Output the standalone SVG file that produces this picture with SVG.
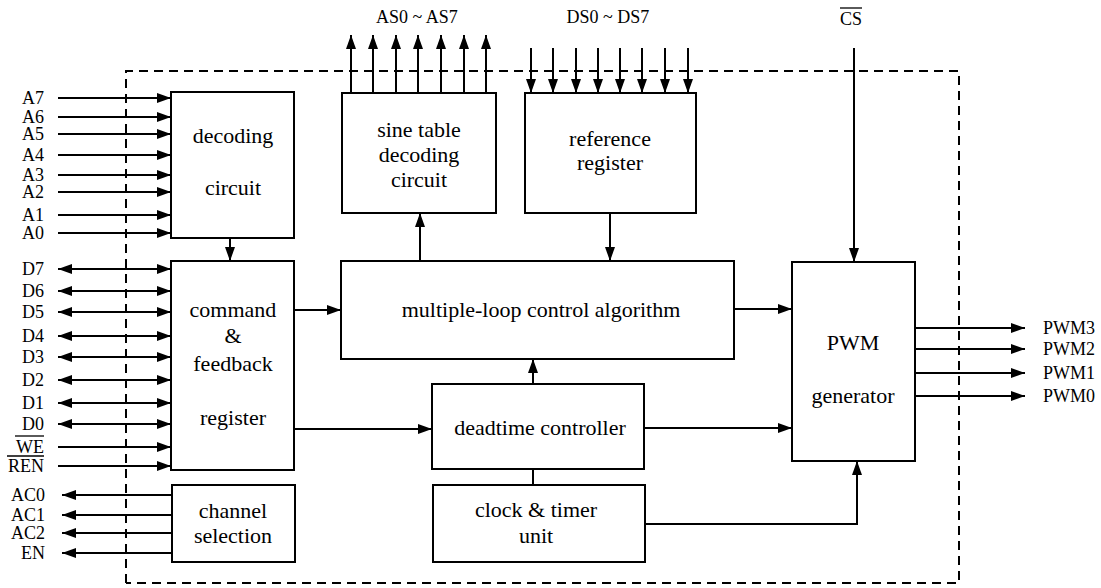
<svg xmlns="http://www.w3.org/2000/svg" width="1101" height="588" viewBox="0 0 1101 588">
<defs>
<marker id="ah" markerUnits="userSpaceOnUse" markerWidth="15" markerHeight="11" refX="14" refY="5" orient="auto-start-reverse">
<path d="M0,0 L14,5 L0,10 z" fill="#000"/>
</marker>
<style>
.box{fill:#fff;stroke:#000;stroke-width:2}
.t{font-family:"Liberation Serif","Times New Roman",serif;font-size:22px;fill:#000;text-anchor:middle}
.l{font-family:"Liberation Serif","Times New Roman",serif;font-size:18px;fill:#000}
.r{text-anchor:end}
.c{text-anchor:middle}
.w{fill:none;stroke:#000;stroke-width:2}
.a{fill:none;stroke:#000;stroke-width:2;marker-end:url(#ah)}
.b{fill:none;stroke:#000;stroke-width:2;marker-start:url(#ah);marker-end:url(#ah)}
.dash{fill:none;stroke:#000;stroke-width:2;stroke-dasharray:9 6}
.ov{stroke:#000;stroke-width:1.3}
</style>
</defs>
<rect width="1101" height="588" fill="#fff"/>
<path id="boundary" class="dash" d="M126,583 V71 H959 V583 H126"/>
<g id="connectors">
<path class="a" d="M58,98 H171"/>
<path class="a" d="M58,117 H171"/>
<path class="a" d="M58,134 H171"/>
<path class="a" d="M58,155 H171"/>
<path class="a" d="M58,175 H171"/>
<path class="a" d="M58,192 H171"/>
<path class="a" d="M58,215 H171"/>
<path class="a" d="M58,233 H171"/>
<path class="a" d="M230,238 V261"/>
<path class="b" d="M58,269 H171"/>
<path class="b" d="M58,291 H171"/>
<path class="b" d="M58,312 H171"/>
<path class="b" d="M58,336 H171"/>
<path class="b" d="M58,357 H171"/>
<path class="b" d="M58,380 H171"/>
<path class="b" d="M58,403 H171"/>
<path class="b" d="M58,424 H171"/>
<path class="a" d="M58,447 H171"/>
<path class="a" d="M58,466 H171"/>
<path class="a" d="M172,495 H62"/>
<path class="a" d="M172,515 H62"/>
<path class="a" d="M172,533 H62"/>
<path class="a" d="M172,553 H62"/>
<path class="a" d="M351,93 V35"/>
<path class="a" d="M373,93 V35"/>
<path class="a" d="M396,93 V35"/>
<path class="a" d="M418,93 V35"/>
<path class="a" d="M441,93 V35"/>
<path class="a" d="M464,93 V35"/>
<path class="a" d="M486,93 V35"/>
<path class="a" d="M531,48 V93"/>
<path class="a" d="M553,48 V93"/>
<path class="a" d="M576,48 V93"/>
<path class="a" d="M598,48 V93"/>
<path class="a" d="M620,48 V93"/>
<path class="a" d="M642,48 V93"/>
<path class="a" d="M665,48 V93"/>
<path class="a" d="M688,48 V93"/>
<path class="a" d="M854,48 V262"/>
<path class="a" d="M294,310 H341"/>
<path class="a" d="M420,261 V213"/>
<path class="a" d="M610,213 V261"/>
<path class="a" d="M533,384 V359"/>
<path class="a" d="M294,429 H432"/>
<path class="w" d="M533,485 V469"/>
<path class="a" d="M734,309 H792"/>
<path class="a" d="M644,428 H792"/>
<path class="a" d="M645,524 H857 V461"/>
<path class="a" d="M915,328 H1025"/>
<path class="a" d="M915,349 H1025"/>
<path class="a" d="M915,373 H1025"/>
<path class="a" d="M915,396 H1025"/>
</g>
<g id="decoding">
<rect class="box" x="171" y="92" width="123" height="146"/>
<text class="t" x="233" y="143">decoding</text>
<text class="t" x="233" y="195">circuit</text>
</g>
<g id="command">
<rect class="box" x="171" y="261" width="123" height="209"/>
<text class="t" x="233" y="317">command</text>
<text class="t" x="233" y="343">&amp;</text>
<text class="t" x="233" y="371">feedback</text>
<text class="t" x="233" y="425">register</text>
</g>
<g id="channel">
<rect class="box" x="172" y="485" width="123" height="77"/>
<text class="t" x="233" y="518">channel</text>
<text class="t" x="233" y="543">selection</text>
</g>
<g id="sine">
<rect class="box" x="342" y="93" width="154" height="120"/>
<text class="t" x="419" y="137">sine table</text>
<text class="t" x="419" y="162">decoding</text>
<text class="t" x="419" y="187">circuit</text>
</g>
<g id="reference">
<rect class="box" x="525" y="93" width="171" height="120"/>
<text class="t" x="610" y="146">reference</text>
<text class="t" x="610" y="170">register</text>
</g>
<g id="multiple">
<rect class="box" x="341" y="261" width="393" height="98"/>
<text class="t" x="541" y="317">multiple-loop control algorithm</text>
</g>
<g id="deadtime">
<rect class="box" x="432" y="384" width="212" height="85"/>
<text class="t" x="540" y="435">deadtime controller</text>
</g>
<g id="clock">
<rect class="box" x="433" y="485" width="212" height="77"/>
<text class="t" x="536" y="517">clock &amp; timer</text>
<text class="t" x="536" y="543">unit</text>
</g>
<g id="pwm">
<rect class="box" x="792" y="262" width="123" height="199"/>
<text class="t" x="853" y="350">PWM</text>
<text class="t" x="853" y="403">generator</text>
</g>
<g id="labels">
<text class="l r" x="44" y="104">A7</text>
<text class="l r" x="44" y="123">A6</text>
<text class="l r" x="44" y="140">A5</text>
<text class="l r" x="44" y="161">A4</text>
<text class="l r" x="44" y="181">A3</text>
<text class="l r" x="44" y="198">A2</text>
<text class="l r" x="44" y="221">A1</text>
<text class="l r" x="44" y="239">A0</text>
<text class="l r" x="44" y="275">D7</text>
<text class="l r" x="44" y="297">D6</text>
<text class="l r" x="44" y="318">D5</text>
<text class="l r" x="44" y="342">D4</text>
<text class="l r" x="44" y="363">D3</text>
<text class="l r" x="44" y="386">D2</text>
<text class="l r" x="44" y="409">D1</text>
<text class="l r" x="44" y="430">D0</text>
<text class="l r" x="44" y="453">WE</text>
<line class="ov" x1="15" y1="436" x2="44" y2="436"/>
<text class="l r" x="44" y="472">REN</text>
<line class="ov" x1="7" y1="456" x2="44" y2="456"/>
<text class="l r" x="45" y="501">AC0</text>
<text class="l r" x="45" y="521">AC1</text>
<text class="l r" x="45" y="539">AC2</text>
<text class="l r" x="45" y="559">EN</text>
<text class="l c" x="417" y="23">AS0 ~ AS7</text>
<text class="l c" x="608" y="23">DS0 ~ DS7</text>
<text class="l" x="840" y="25">CS</text>
<line class="ov" x1="840" y1="8" x2="862" y2="8"/>
<text class="l" x="1043" y="334">PWM3</text>
<text class="l" x="1043" y="355">PWM2</text>
<text class="l" x="1043" y="379">PWM1</text>
<text class="l" x="1043" y="402">PWM0</text>
</g>
</svg>
